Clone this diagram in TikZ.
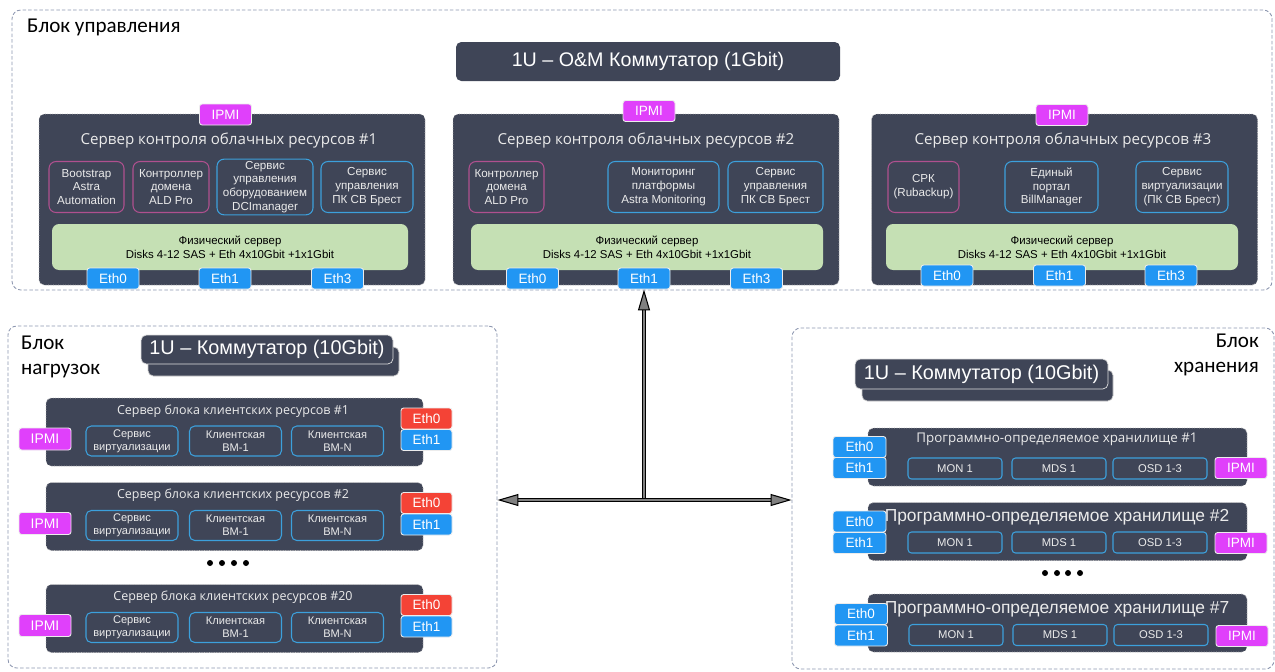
\documentclass[tikz,border=0pt]{standalone}
\usepackage{fontspec}
\setmainfont{Liberation Sans}
\newfontfamily\calib{Carlito}
\newfontfamily\segoe{Open Sans}
\usepackage{tikz}
\usetikzlibrary{shapes,arrows.meta,calc,positioning}

\definecolor{srvc}{HTML}{3F4557}
\definecolor{physc}{HTML}{C5E0B4}
\definecolor{ethc}{HTML}{2196F3}
\definecolor{ethrc}{HTML}{F44336}
\definecolor{ipmic}{HTML}{E040FB}
\definecolor{svcmc}{HTML}{B0508F}
\definecolor{svcbc}{HTML}{3CA0DC}
\definecolor{framec}{HTML}{8C96AF}
\definecolor{arrc}{HTML}{808080}
\newcommand{\fsz}[2]{\fontsize{#1}{#2}\selectfont}

\begin{document}
\begin{tikzpicture}[
  frame/.style={rectangle, draw=framec, dash pattern=on 2pt off 1.2pt, line width=0.5pt, rounded corners=5pt},
  blk/.style={font=\calib\fsz{12}{14}},
  srv/.style={rectangle, draw=gray!55, densely dotted, fill=srvc, rounded corners=3pt, inner sep=0pt},
  ttl/.style={text=white!92!black, font=\segoe\fsz{8.6}{10}},
  svc/.style={rectangle, rounded corners=4pt, align=center, text=white!92!black, font=\fsz{6.6}{7.9}, minimum height=1.02cm, inner sep=1pt, line width=0.6pt},
  svcm/.style={svc, draw=svcmc},
  svcb/.style={svc, draw=svcbc},
  phys/.style={rectangle, fill=physc, rounded corners=4pt, minimum height=0.92cm, align=center, font=\fsz{6.5}{7.8}},
  tag/.style={rectangle, draw=white!85!gray, rounded corners=1.5pt, text=white, font=\fsz{7.7}{9}, minimum width=1.04cm, minimum height=0.42cm, inner sep=0pt, line width=0.5pt},
  eth/.style={tag, fill=ethc},
  ethr/.style={tag, fill=ethrc},
  ipmi/.style={tag, fill=ipmic},
  sw/.style={rectangle, fill=srvc, rounded corners=3pt, text=white, inner sep=0pt},
  vm/.style={rectangle, draw=svcbc, rounded corners=3pt, line width=0.6pt, text=white!92!black, font=\fsz{6.3}{7.4}, align=center, minimum width=1.84cm, minimum height=0.6cm, inner sep=0pt},
  osd/.style={rectangle, draw=svcbc, rounded corners=2pt, line width=0.6pt, text=white!92!black, font=\fsz{6.4}{7.4}, minimum width=1.88cm, minimum height=0.42cm, inner sep=0pt},
  dot/.style={circle, fill=black, inner sep=0pt, minimum size=0.12cm},
  arr/.style={double=arrc, double distance=1.3pt, line width=0.6pt, -{Triangle[length=0.42cm, width=0.24cm, fill=arrc]}}
]
\useasboundingbox (0,0) rectangle (25.5,-13.42);

% block frames
\node[frame, minimum width=25.2cm, minimum height=5.6cm] (ctlblk) at (12.84,-3.0) {};
\node[frame, minimum width=9.78cm, minimum height=6.84cm] (ldblk) at (5.05,-9.94) {};
\node[frame, minimum width=9.64cm, minimum height=6.82cm] (rtblk) at (20.66,-9.97) {};

\node[blk, anchor=west] (ctllbl) at (0.42,-0.54) {Блок управления};
\node[blk, anchor=west, align=left] (ldlbl) at (0.3,-7.14) {Блок\\нагрузок};
\node[blk, anchor=east, align=right] (rtlbl) at (25.3,-7.1) {Блок\\хранения};

% control block
\node[sw, minimum width=7.68cm, minimum height=0.78cm, font=\fsz{11.2}{13}] (oms) at (12.96,-1.23) {1U -- O\&M Коммутатор (1Gbit)};

\node[srv, minimum width=7.72cm, minimum height=3.42cm] (s1) at (4.64,-3.99) {};
\node[srv, minimum width=7.72cm, minimum height=3.42cm] (s2) at (12.92,-3.99) {};
\node[srv, minimum width=7.72cm, minimum height=3.42cm] (s3) at (21.29,-3.99) {};

\node[ttl] (s1t) at (4.58,-2.82) {Сервер контроля облачных ресурсов \#1};
\node[ttl] (s2t) at (12.92,-2.82) {Сервер контроля облачных ресурсов \#2};
\node[ttl] (s3t) at (21.26,-2.82) {Сервер контроля облачных ресурсов \#3};

\node[ipmi] (s1i) at (4.51,-2.29) {IPMI};
\node[ipmi] (s2i) at (12.98,-2.22) {IPMI};
\node[ipmi] (s3i) at (21.24,-2.3) {IPMI};

\node[svcm, minimum width=1.5cm] (s1a) at (1.73,-3.74) {Bootstrap\\Astra\\Automation};
\node[svcm, minimum width=1.52cm] (s1b) at (3.42,-3.74) {Контроллер\\домена\\ALD Pro};
\node[svcb, minimum width=1.92cm] (s1c) at (5.30,-3.74) {Сервис\\управления\\оборудованием\\DCImanager};
\node[svcb, minimum width=1.84cm] (s1d) at (7.34,-3.74) {Сервис\\управления\\ПК СВ Брест};
\node[svcm, minimum width=1.5cm] (s2a) at (10.13,-3.74) {Контроллер\\домена\\ALD Pro};
\node[svcb, minimum width=2.22cm] (s2b) at (13.27,-3.74) {Мониторинг\\платформы\\Astra Monitoring};
\node[svcb, minimum width=1.9cm] (s2c) at (15.51,-3.74) {Сервис\\управления\\ПК СВ Брест};
\node[svcm, minimum width=1.42cm] (s3a) at (18.47,-3.74) {СРК\\(Rubackup)};
\node[svcb, minimum width=1.86cm] (s3b) at (21.03,-3.74) {Единый\\портал\\BillManager};
\node[svcb, minimum width=1.84cm] (s3c) at (23.64,-3.74) {Сервис\\виртуализации\\(ПК СВ Брест)};

\node[phys, minimum width=7.12cm] (s1g) at (4.6,-4.94) {Физический сервер\\Disks 4-12 SAS + Eth 4x10Gbit +1x1Gbit};
\node[phys, minimum width=7.04cm] (s2g) at (12.94,-4.94) {Физический сервер\\Disks 4-12 SAS + Eth 4x10Gbit +1x1Gbit};
\node[phys, minimum width=7.04cm] (s3g) at (21.24,-4.94) {Физический сервер\\Disks 4-12 SAS + Eth 4x10Gbit +1x1Gbit};

\node[eth] (s1e0) at (2.26,-5.57) {Eth0};
\node[eth] (s1e1) at (4.5,-5.57) {Eth1};
\node[eth] (s1e3) at (6.75,-5.57) {Eth3};
\node[eth] (s2e0) at (10.65,-5.57) {Eth0};
\node[eth] (s2e1) at (12.88,-5.57) {Eth1};
\node[eth] (s2e3) at (15.13,-5.57) {Eth3};
\node[eth] (s3e0) at (18.94,-5.51) {Eth0};
\node[eth] (s3e1) at (21.19,-5.51) {Eth1};
\node[eth] (s3e3) at (23.42,-5.51) {Eth3};

% load block
\node[sw, draw=gray!40, minimum width=5.02cm, minimum height=0.58cm] (lsws) at (5.47,-7.23) {};
\node[sw, draw=gray!25, minimum width=5.04cm, minimum height=0.58cm, font=\fsz{11.3}{13}] (lsw) at (5.34,-6.99) {1U -- Коммутатор (10Gbit)};

\node[srv, minimum width=7.54cm, minimum height=1.36cm] (c1) at (4.69,-8.64) {};
\node[srv, minimum width=7.54cm, minimum height=1.36cm] (c2) at (4.69,-10.33) {};
\node[srv, minimum width=7.54cm, minimum height=1.36cm] (c20) at (4.69,-12.37) {};

\node[ttl, font=\segoe\fsz{7.1}{8.5}] (c1t) at (4.66,-8.22) {Сервер блока клиентских ресурсов \#1};
\node[ttl, font=\segoe\fsz{7.1}{8.5}] (c2t) at (4.66,-9.91) {Сервер блока клиентских ресурсов \#2};
\node[ttl, font=\segoe\fsz{7.1}{8.5}] (c20t) at (4.66,-11.94) {Сервер блока клиентских ресурсов \#20};

\node[ipmi, minimum height=0.44cm, font=\fsz{7.9}{9}] (c1i) at (0.9,-8.78) {IPMI};
\node[ipmi, minimum height=0.44cm, font=\fsz{7.9}{9}] (c2i) at (0.9,-10.47) {IPMI};
\node[ipmi, minimum height=0.44cm, font=\fsz{7.9}{9}] (c20i) at (0.9,-12.51) {IPMI};

\node[vm] (c1a) at (2.64,-8.82) {Сервис\\виртуализации};
\node[vm] (c1b) at (4.71,-8.82) {Клиентская\\ВМ-1};
\node[vm] (c1c) at (6.75,-8.82) {Клиентская\\ВМ-N};
\node[vm] (c2a) at (2.64,-10.51) {Сервис\\виртуализации};
\node[vm] (c2b) at (4.71,-10.51) {Клиентская\\ВМ-1};
\node[vm] (c2c) at (6.75,-10.51) {Клиентская\\ВМ-N};
\node[vm] (c20a) at (2.64,-12.55) {Сервис\\виртуализации};
\node[vm] (c20b) at (4.71,-12.55) {Клиентская\\ВМ-1};
\node[vm] (c20c) at (6.75,-12.55) {Клиентская\\ВМ-N};

\node[ethr, minimum width=1.02cm] (c1e0) at (8.53,-8.37) {Eth0};
\node[eth, minimum width=1.02cm] (c1e1) at (8.53,-8.8) {Eth1};
\node[ethr, minimum width=1.02cm] (c2e0) at (8.53,-10.06) {Eth0};
\node[eth, minimum width=1.02cm] (c2e1) at (8.53,-10.49) {Eth1};
\node[ethr, minimum width=1.02cm] (c20e0) at (8.53,-12.1) {Eth0};
\node[eth, minimum width=1.02cm] (c20e1) at (8.53,-12.53) {Eth1};

\node[dot] (ld1) at (4.2,-11.26) {};
\node[dot] (ld2) at (4.44,-11.26) {};
\node[dot] (ld3) at (4.68,-11.26) {};
\node[dot] (ld4) at (4.92,-11.26) {};

% storage block
\node[sw, draw=gray!40, minimum width=5.02cm, minimum height=0.62cm] (rsws) at (19.75,-7.71) {};
\node[sw, draw=gray!25, minimum width=5.06cm, minimum height=0.6cm, font=\fsz{11.3}{13}] (rsw) at (19.63,-7.48) {1U -- Коммутатор (10Gbit)};

\node[srv, minimum width=7.58cm, minimum height=1.16cm] (d1) at (21.15,-9.14) {};
\node[srv, minimum width=7.58cm, minimum height=1.16cm] (d2) at (21.15,-10.63) {};
\node[srv, minimum width=7.58cm, minimum height=1.16cm] (d7) at (21.15,-12.46) {};

\node[ttl, font=\segoe\fsz{7.6}{9}] (d1t) at (21.14,-8.78) {Программно-определяемое хранилище \#1};
\node[ttl, font=\fsz{9.9}{11}] (d2t) at (21.14,-10.34) {Программно-определяемое хранилище \#2};
\node[ttl, font=\fsz{9.9}{11}] (d7t) at (21.14,-12.18) {Программно-определяемое хранилище \#7};

\node[eth, minimum width=1.06cm] (d1e0) at (17.19,-8.94) {Eth0};
\node[eth, minimum width=1.06cm] (d1e1) at (17.19,-9.36) {Eth1};
\node[eth, minimum width=1.06cm] (d2e0) at (17.19,-10.43) {Eth0};
\node[eth, minimum width=1.06cm] (d2e1) at (17.19,-10.86) {Eth1};
\node[eth, minimum width=1.06cm] (d7e0) at (17.22,-12.28) {Eth0};
\node[eth, minimum width=1.06cm] (d7e1) at (17.22,-12.71) {Eth1};

\node[osd] (d1a) at (19.1,-9.37) {MON 1};
\node[osd] (d1b) at (21.18,-9.37) {MDS 1};
\node[osd] (d1c) at (23.2,-9.37) {OSD 1-3};
\node[osd] (d2a) at (19.1,-10.85) {MON 1};
\node[osd] (d2b) at (21.18,-10.85) {MDS 1};
\node[osd] (d2c) at (23.2,-10.85) {OSD 1-3};
\node[osd] (d7a) at (19.12,-12.7) {MON 1};
\node[osd] (d7b) at (21.2,-12.7) {MDS 1};
\node[osd] (d7c) at (23.22,-12.7) {OSD 1-3};

\node[ipmi] (d1i) at (24.82,-9.36) {IPMI};
\node[ipmi] (d2i) at (24.82,-10.86) {IPMI};
\node[ipmi] (d7i) at (24.84,-12.72) {IPMI};

\node[dot] (rd1) at (20.9,-11.46) {};
\node[dot] (rd2) at (21.14,-11.46) {};
\node[dot] (rd3) at (21.36,-11.46) {};
\node[dot] (rd4) at (21.6,-11.46) {};

% links
\coordinate (hub) at (s2e1.south |- 0,-10.0);
\draw[arr] (hub) -- (s2e1.south);
\draw[arr] (hub) -- (hub -| ldblk.east);
\draw[arr] (hub) -- (hub -| rtblk.west);
\end{tikzpicture}
\end{document}
